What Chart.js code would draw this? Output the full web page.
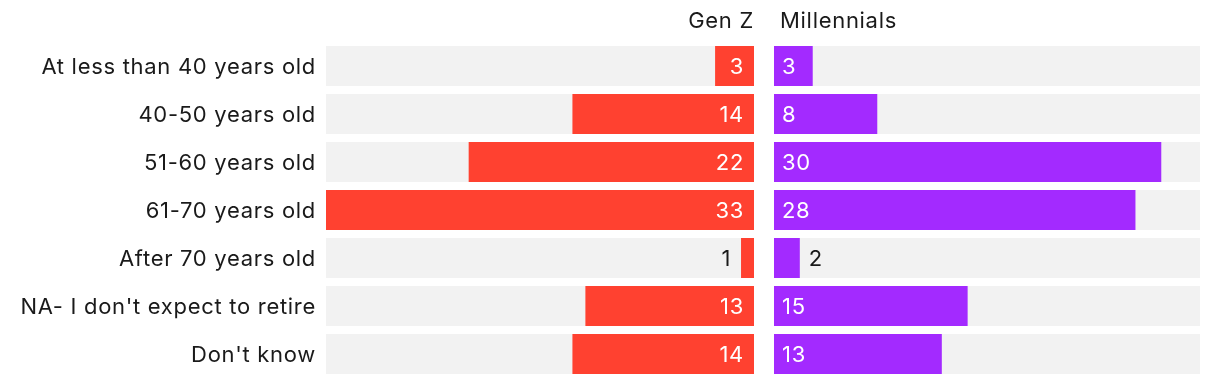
<!DOCTYPE html>
<html>
<head>
<meta charset="utf-8">
<script src="https://cdn.jsdelivr.net/npm/chart.js@4"></script>
<style>
  html, body { margin: 0; padding: 0; background: #fff; }
  body { width: 1220px; height: 384px; position: relative; overflow: hidden; font-family: Inter, "Noto Sans", sans-serif; }
  #wrapL { position: absolute; left: 0; top: 0; width: 754px; height: 384px; }
  #wrapR { position: absolute; left: 774px; top: 0; width: 446px; height: 384px; }
  .hdr { position: absolute; top: 6px; font-size: 22px; line-height: 28px; color: #1a1a1a; letter-spacing: 0.7px; }
  #hL { right: 466px; }
  #hR { left: 780px; }
</style>
</head>
<body>
<div id="wrapL"><canvas id="cL"></canvas></div>
<div id="wrapR"><canvas id="cR"></canvas></div>
<div class="hdr" id="hL">Gen Z</div>
<div class="hdr" id="hR">Millennials</div>
<script>
const categories = ["At less than 40 years old", "40-50 years old", "51-60 years old", "61-70 years old", "After 70 years old", "NA- I don't expect to retire", "Don't know"];
const genZ = [3, 14, 22, 33, 1, 13, 14];
const millennials = [3, 8, 30, 28, 2, 15, 13];
const seriesNames = ["Gen Z", "Millennials"];
const axisMax = 33;

const FONT = "Inter, 'Noto Sans', sans-serif";
const RED = "#FF4130";
const PURPLE = "#A32AFF";
const TRACK = "#F2F2F2";
const TEXT = "#1a1a1a";
const SPACING = "0.7px";

const trackPlugin = {
  id: "track",
  beforeDatasetsDraw(chart) {
    const { ctx, chartArea } = chart;
    const meta = chart.getDatasetMeta(0);
    ctx.save();
    ctx.fillStyle = TRACK;
    meta.data.forEach(bar => {
      const h = bar.height;
      ctx.fillRect(chartArea.left, bar.y - h / 2, chartArea.right - chartArea.left, h);
    });
    ctx.restore();
  }
};

const labelPlugin = {
  id: "catLabels",
  afterDraw(chart, args, opts) {
    if (!opts.show) return;
    const { ctx, chartArea } = chart;
    const yScale = chart.scales.y;
    ctx.save();
    ctx.font = "22px " + FONT;
    ctx.letterSpacing = SPACING;
    ctx.fillStyle = TEXT;
    ctx.textAlign = "right";
    ctx.textBaseline = "middle";
    chart.data.labels.forEach((lab, i) => {
      ctx.fillText(lab, chartArea.left - 10, yScale.getPixelForValue(i) + 1);
    });
    ctx.restore();
  }
};

const valuePlugin = {
  id: "values",
  afterDatasetsDraw(chart, args, opts) {
    const { ctx } = chart;
    const meta = chart.getDatasetMeta(0);
    const data = chart.data.datasets[0].data;
    ctx.save();
    ctx.font = "22px " + FONT;
    ctx.letterSpacing = SPACING;
    ctx.textBaseline = "middle";
    meta.data.forEach((bar, i) => {
      const txt = String(data[i]);
      const tw = ctx.measureText(txt).width;
      const w = Math.abs(bar.x - bar.base);
      const inside = w >= tw + 20;
      if (opts.side === "left") {
        ctx.textAlign = "right";
        if (inside) {
          ctx.fillStyle = "#fff";
          ctx.fillText(txt, bar.base - 10, bar.y + 1);
        } else {
          ctx.fillStyle = TEXT;
          ctx.fillText(txt, bar.x - 10, bar.y + 1);
        }
      } else {
        ctx.textAlign = "left";
        if (inside) {
          ctx.fillStyle = "#fff";
          ctx.fillText(txt, bar.base + 8, bar.y + 1);
        } else {
          ctx.fillStyle = TEXT;
          ctx.fillText(txt, bar.x + 9, bar.y + 1);
        }
      }
    });
    ctx.restore();
  }
};

function makeChart(id, values, name, color, side) {
  return new Chart(document.getElementById(id), {
    type: "bar",
    data: {
      labels: categories,
      datasets: [{
        label: name,
        data: values,
        backgroundColor: color,
        borderWidth: 0,
        barPercentage: 40 / 48,
        categoryPercentage: 1
      }]
    },
    options: {
      indexAxis: "y",
      responsive: true,
      maintainAspectRatio: false,
      animation: false,
      events: [],
      layout: { padding: side === "left" ? { top: 42, bottom: 6, left: 326, right: 0 } : { top: 42, bottom: 6, left: 0, right: 20 } },
      plugins: {
        legend: { display: false },
        tooltip: { enabled: false },
        values: { side: side },
        catLabels: { show: side === "left" }
      },
      scales: {
        x: {
          display: false,
          min: 0,
          max: axisMax,
          reverse: side === "left"
        },
        y: {
          display: false
        }
      }
    },
    plugins: [trackPlugin, valuePlugin, labelPlugin]
  });
}

makeChart("cL", genZ, seriesNames[0], RED, "left");
makeChart("cR", millennials, seriesNames[1], PURPLE, "right");
</script>
</body>
</html>
